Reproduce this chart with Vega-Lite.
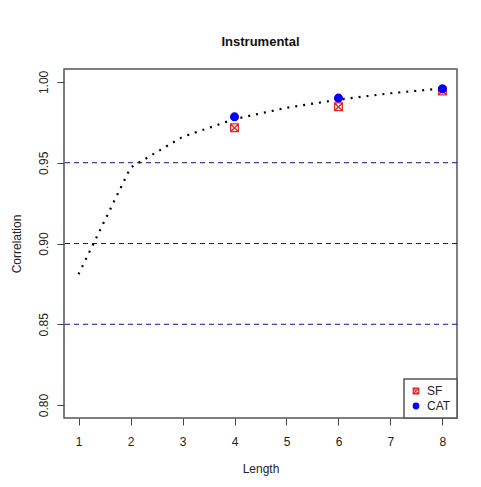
{
  "$schema": "https://vega.github.io/schema/vega-lite/v6.json",
  "autosize": "none",
  "width": 393,
  "height": 349,
  "padding": {"left": 64, "top": 69, "right": 24, "bottom": 69},
  "background": "white",
  "config": {
    "font": "Liberation Sans",
    "view": {"stroke": "#555555", "strokeWidth": 1.5},
    "axis": {"grid": false, "domain": false, "tickColor": "#444444", "tickSize": 7, "labelColor": "#222222", "titleColor": "#222222", "labelFontSize": 12, "titleFontSize": 12, "titleFontWeight": "normal", "labelFont": "Liberation Sans", "titleFont": "Liberation Sans"},
    "legend": {"orient": "bottom-right", "offset": 0, "strokeColor": "#555555", "strokeWidth": 1.5, "padding": 6, "fillColor": "white", "labelFontSize": 12, "labelColor": "#222222", "labelFont": "Liberation Sans", "symbolSize": 30, "symbolStrokeWidth": 1.3, "rowPadding": 3, "labelOffset": 5}
  },
  "title": {"text": "Instrumental", "fontSize": 13, "fontWeight": "bold", "font": "Liberation Sans", "color": "#111111", "anchor": "middle", "offset": 20},
  "datasets": {
    "curve": [
      {"Length": 1, "Correlation": 0.881},
      {"Length": 2, "Correlation": 0.947},
      {"Length": 3, "Correlation": 0.966},
      {"Length": 4, "Correlation": 0.977},
      {"Length": 5, "Correlation": 0.984},
      {"Length": 6, "Correlation": 0.989},
      {"Length": 7, "Correlation": 0.993},
      {"Length": 8, "Correlation": 0.996}
    ],
    "refs": [{"level": 0.85}, {"level": 0.90}, {"level": 0.95}],
    "points": [
      {"Length": 4, "Correlation": 0.9716, "Method": "SF"},
      {"Length": 6, "Correlation": 0.9846, "Method": "SF"},
      {"Length": 8, "Correlation": 0.9944, "Method": "SF"},
      {"Length": 4, "Correlation": 0.9784, "Method": "CAT"},
      {"Length": 6, "Correlation": 0.9900, "Method": "CAT"},
      {"Length": 8, "Correlation": 0.9957, "Method": "CAT"}
    ]
  },
  "layer": [
    {
      "data": {"name": "refs"},
      "mark": {"type": "rule", "color": "#14148c", "strokeWidth": 1, "strokeDash": [5, 4]},
      "encoding": {
        "y": {"field": "level", "type": "quantitative", "scale": {"domain": [0.792, 1.008], "nice": false, "zero": false}}
      }
    },
    {
      "data": {"name": "curve"},
      "mark": {"type": "line", "color": "black", "strokeWidth": 2.2, "strokeDash": [2, 6]},
      "encoding": {
        "x": {"field": "Length", "type": "quantitative", "scale": {"domain": [0.72, 8.28], "nice": false, "zero": false},
              "axis": {"values": [1, 2, 3, 4, 5, 6, 7, 8], "title": "Length", "labelPadding": 11, "titlePadding": 16, "format": "d"}},
        "y": {"field": "Correlation", "type": "quantitative", "scale": {"domain": [0.792, 1.008], "nice": false, "zero": false},
              "axis": {"values": [0.8, 0.85, 0.9, 0.95, 1.0], "format": ".2f", "title": "Correlation", "labelAngle": 270, "labelAlign": "center", "labelBaseline": "bottom", "labelPadding": 7, "titlePadding": 14}}
      }
    },
    {
      "data": {"name": "points"},
      "mark": {"type": "point", "size": 60, "strokeWidth": 1.3, "opacity": 1},
      "encoding": {
        "x": {"field": "Length", "type": "quantitative"},
        "y": {"field": "Correlation", "type": "quantitative"},
        "shape": {"field": "Method", "type": "nominal", "scale": {"domain": ["SF", "CAT"], "range": ["M-1,-1H1V1H-1Z M-1,-1L1,1 M1,-1L-1,1", "circle"]}, "legend": {"title": null}},
        "stroke": {"field": "Method", "type": "nominal", "scale": {"domain": ["SF", "CAT"], "range": ["#e02828", "#0000ff"]}, "legend": {"title": null}},
        "fill": {"field": "Method", "type": "nominal", "scale": {"domain": ["SF", "CAT"], "range": ["rgba(255,255,255,0)", "#0000ff"]}, "legend": {"title": null}}
      }
    }
  ]
}
